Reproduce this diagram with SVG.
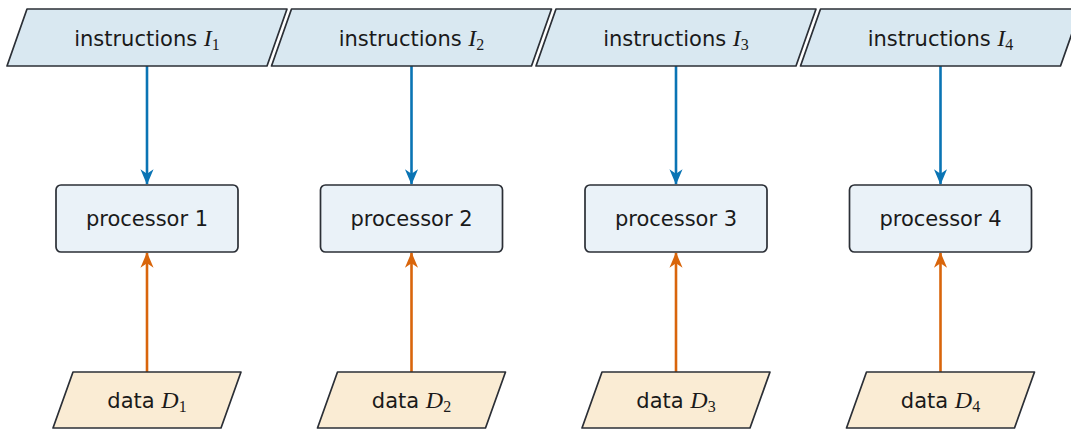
<svg xmlns="http://www.w3.org/2000/svg" width="1071" height="429" viewBox="0 0 1071 429">
<style>
.ins{fill:#d9e8f1;stroke:#2b2f36;stroke-width:1.7;stroke-linejoin:round}
.proc{fill:#eaf2f8;stroke:#2b2f36;stroke-width:1.7}
.dat{fill:#faecd4;stroke:#2b2f36;stroke-width:1.7;stroke-linejoin:round}
.t{font-family:"DejaVu Sans","Liberation Sans",sans-serif;font-size:21px;fill:#1a1a1a;text-anchor:middle}
.m{font-family:"Liberation Serif",serif;font-style:italic;font-size:24px}
.s{font-family:"Liberation Serif",serif;font-size:16px}
.blue{stroke:#0a74b4;stroke-width:2.6;fill:none}
.orange{stroke:#d9650b;stroke-width:2.6;fill:none}
</style>
<defs>
<marker id="ab" viewBox="0 0 10 10" refX="9.5" refY="5" markerWidth="6" markerHeight="6" markerUnits="strokeWidth" orient="auto"><path d="M0,0.8 L10,5 L0,9.2 L3,5 Z" fill="#0a74b4"/></marker>
<marker id="ao" viewBox="0 0 10 10" refX="9.5" refY="5" markerWidth="6" markerHeight="6" markerUnits="strokeWidth" orient="auto"><path d="M0,0.8 L10,5 L0,9.2 L3,5 Z" fill="#d9650b"/></marker>
</defs>
<g id="connectors">
<line class="blue" x1="147" y1="66" x2="147" y2="184" marker-end="url(#ab)"/>
<line class="blue" x1="411.5" y1="66" x2="411.5" y2="184" marker-end="url(#ab)"/>
<line class="blue" x1="676" y1="66" x2="676" y2="184" marker-end="url(#ab)"/>
<line class="blue" x1="940.5" y1="66" x2="940.5" y2="184" marker-end="url(#ab)"/>
<line class="orange" x1="147" y1="372" x2="147" y2="253" marker-end="url(#ao)"/>
<line class="orange" x1="411.5" y1="372" x2="411.5" y2="253" marker-end="url(#ao)"/>
<line class="orange" x1="676" y1="372" x2="676" y2="253" marker-end="url(#ao)"/>
<line class="orange" x1="940.5" y1="372" x2="940.5" y2="253" marker-end="url(#ao)"/>
</g>
<g id="instr1"><polygon class="ins" points="27,9 287,9 267,66 7,66"/><text class="t" x="147" y="46">instructions <tspan class="m">I</tspan><tspan class="s" dy="4">1</tspan></text></g>
<g id="instr2"><polygon class="ins" points="291.5,9 551.5,9 531.5,66 271.5,66"/><text class="t" x="411.5" y="46">instructions <tspan class="m">I</tspan><tspan class="s" dy="4">2</tspan></text></g>
<g id="instr3"><polygon class="ins" points="556,9 816,9 796,66 536,66"/><text class="t" x="676" y="46">instructions <tspan class="m">I</tspan><tspan class="s" dy="4">3</tspan></text></g>
<g id="instr4"><polygon class="ins" points="820.5,9 1080.5,9 1060.5,66 800.5,66"/><text class="t" x="940.5" y="46">instructions <tspan class="m">I</tspan><tspan class="s" dy="4">4</tspan></text></g>
<g id="proc1"><rect class="proc" x="56" y="185" width="182" height="67" rx="5"/><text class="t" x="147" y="226">processor 1</text></g>
<g id="proc2"><rect class="proc" x="320.5" y="185" width="182" height="67" rx="5"/><text class="t" x="411.5" y="226">processor 2</text></g>
<g id="proc3"><rect class="proc" x="585" y="185" width="182" height="67" rx="5"/><text class="t" x="676" y="226">processor 3</text></g>
<g id="proc4"><rect class="proc" x="849.5" y="185" width="182" height="67" rx="5"/><text class="t" x="940.5" y="226">processor 4</text></g>
<g id="data1"><polygon class="dat" points="73,372 241,372 221,428 53,428"/><text class="t" x="147" y="408">data <tspan class="m">D</tspan><tspan class="s" dy="4">1</tspan></text></g>
<g id="data2"><polygon class="dat" points="337.5,372 505.5,372 485.5,428 317.5,428"/><text class="t" x="411.5" y="408">data <tspan class="m">D</tspan><tspan class="s" dy="4">2</tspan></text></g>
<g id="data3"><polygon class="dat" points="602,372 770,372 750,428 582,428"/><text class="t" x="676" y="408">data <tspan class="m">D</tspan><tspan class="s" dy="4">3</tspan></text></g>
<g id="data4"><polygon class="dat" points="866.5,372 1034.5,372 1014.5,428 846.5,428"/><text class="t" x="940.5" y="408">data <tspan class="m">D</tspan><tspan class="s" dy="4">4</tspan></text></g>
</svg>
